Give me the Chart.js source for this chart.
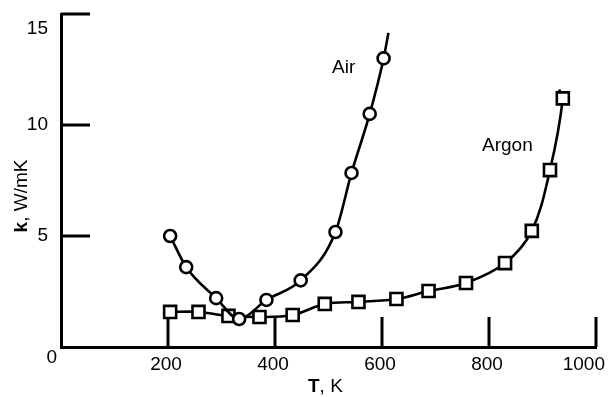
<!DOCTYPE html>
<html>
<head>
<meta charset="UTF-8">
<title>Thermal conductivity of Air and Argon</title>
<script src="https://cdn.jsdelivr.net/npm/chart.js"></script>
<style>
  html, body { margin: 0; padding: 0; background: #fff; }
  canvas { display: block; }
</style>
</head>
<body>
<canvas id="kChart" width="608" height="397"></canvas>
<script>
// values (T in K, k in W/mK)
const airT = [204, 234, 290, 333, 384, 448, 513, 543, 577, 603, 612];
const airK = [5.0, 3.6, 2.2, 1.26, 2.12, 3.0, 5.18, 7.84, 10.5, 13.0, 14.15];
const argonT = [204, 257, 313, 371, 433, 493, 556, 627, 687, 757, 830, 880, 914, 938, 931];
const argonK = [1.58, 1.58, 1.40, 1.35, 1.44, 1.94, 2.03, 2.16, 2.52, 2.88, 3.78, 5.23, 7.97, 11.2, 11.6];
// the last entry of each series is only where the drawn curve stops (no marker)

const xTicks = [200, 400, 600, 800, 1000];
const yTicks = [5, 10, 15];
const seriesNames = ['Air', 'Argon'];

const FONT = '"Liberation Sans", Arial, Helvetica, sans-serif';

function toPoints(xs, ys) {
  return xs.map((x, i) => ({ x: x, y: ys[i] }));
}

function hideLast(r) {
  return ctx => (ctx.dataIndex === ctx.dataset.data.length - 1 ? 0 : r);
}

// tick marks point inward, labels and titles are drawn here
const axesDecor = {
  id: 'axesDecor',
  afterDraw(chart) {
    const ctx = chart.ctx;
    const xs = chart.scales.x, ys = chart.scales.y;
    const area = chart.chartArea;
    ctx.save();
    ctx.strokeStyle = '#000';
    ctx.lineWidth = 3;
    ctx.lineCap = 'butt';

    xTicks.forEach(v => {
      const px = Math.round(xs.getPixelForValue(v));
      ctx.beginPath();
      ctx.moveTo(px, area.bottom);
      ctx.lineTo(px, area.bottom - 30);
      ctx.stroke();
    });
    yTicks.forEach(v => {
      const py = Math.round(ys.getPixelForValue(v));
      ctx.beginPath();
      ctx.moveTo(area.left, py);
      ctx.lineTo(area.left + 29, py);
      ctx.stroke();
    });

    ctx.fillStyle = '#000';
    ctx.font = '19px ' + FONT;

    // x labels
    ctx.textAlign = 'center';
    ctx.textBaseline = 'middle';
    xTicks.forEach(v => {
      const txt = String(v);
      const w = ctx.measureText(txt).width;
      let px = xs.getPixelForValue(v) - 2;
      px = Math.min(px, chart.width - 3 - w / 2);
      ctx.fillText(txt, px, area.bottom + 18);
    });
    // shared origin label
    ctx.textAlign = 'right';
    ctx.fillText('0', area.left - 4, area.bottom + 11);

    // y labels
    yTicks.forEach(v => {
      let py = ys.getPixelForValue(v);
      py = Math.max(py, area.top + 15);
      ctx.fillText(String(v), area.left - 13, py);
    });

    // axis titles with a bold variable name
    ctx.textBaseline = 'alphabetic';
    ctx.textAlign = 'left';
    function mixed(boldPart, rest, x, y) {
      ctx.font = 'bold 19px ' + FONT;
      const wb = ctx.measureText(boldPart).width;
      ctx.fillText(boldPart, x, y);
      ctx.font = '19px ' + FONT;
      ctx.fillText(rest, x + wb, y);
      return wb + ctx.measureText(rest).width;
    }
    mixed('T', ', K', 308, 392);

    ctx.save();
    ctx.font = 'bold 19px ' + FONT;
    const wk = ctx.measureText('k').width;
    ctx.font = '19px ' + FONT;
    const wr = ctx.measureText(', W/mK').width;
    ctx.translate(27, 196 + (wk + wr) / 2);
    ctx.rotate(-Math.PI / 2);
    mixed('k', ', W/mK', 0, 0);
    ctx.restore();

    // series names next to the curves
    ctx.font = '19px ' + FONT;
    ctx.fillText(seriesNames[0], 332, 73);
    ctx.fillText(seriesNames[1], 482, 151);

    ctx.restore();
  }
};

const ctx = document.getElementById('kChart').getContext('2d');
new Chart(ctx, {
  type: 'line',
  data: {
    datasets: [
      {
        label: seriesNames[0],
        data: toPoints(airT, airK),
        borderColor: '#000',
        borderWidth: 2.6,
        pointStyle: 'circle',
        pointRadius: hideLast(6),
        pointBackgroundColor: '#fff',
        pointBorderColor: '#000',
        pointBorderWidth: 2.6,
        cubicInterpolationMode: 'monotone',
        fill: false
      },
      {
        label: seriesNames[1],
        data: toPoints(argonT, argonK),
        borderColor: '#000',
        borderWidth: 2.6,
        pointStyle: 'rect',
        pointRadius: hideLast(8.5),
        pointBackgroundColor: '#fff',
        pointBorderColor: '#000',
        pointBorderWidth: 2.6,
        tension: 0.35,
        fill: false
      }
    ]
  },
  options: {
    responsive: false,
    animation: false,
    events: [],
    layout: { padding: { left: 61, right: 12, top: 14, bottom: 50 } },
    plugins: {
      legend: { display: false },
      tooltip: { enabled: false }
    },
    scales: {
      x: {
        type: 'linear',
        min: 0,
        max: 1000,
        grid: { display: false, drawTicks: false },
        border: { display: true, color: '#000', width: 3 },
        ticks: { display: false }
      },
      y: {
        type: 'linear',
        min: 0,
        max: 15,
        grid: { display: false, drawTicks: false },
        border: { display: true, color: '#000', width: 3 },
        ticks: { display: false }
      }
    }
  },
  plugins: [axesDecor]
});
</script>
</body>
</html>
